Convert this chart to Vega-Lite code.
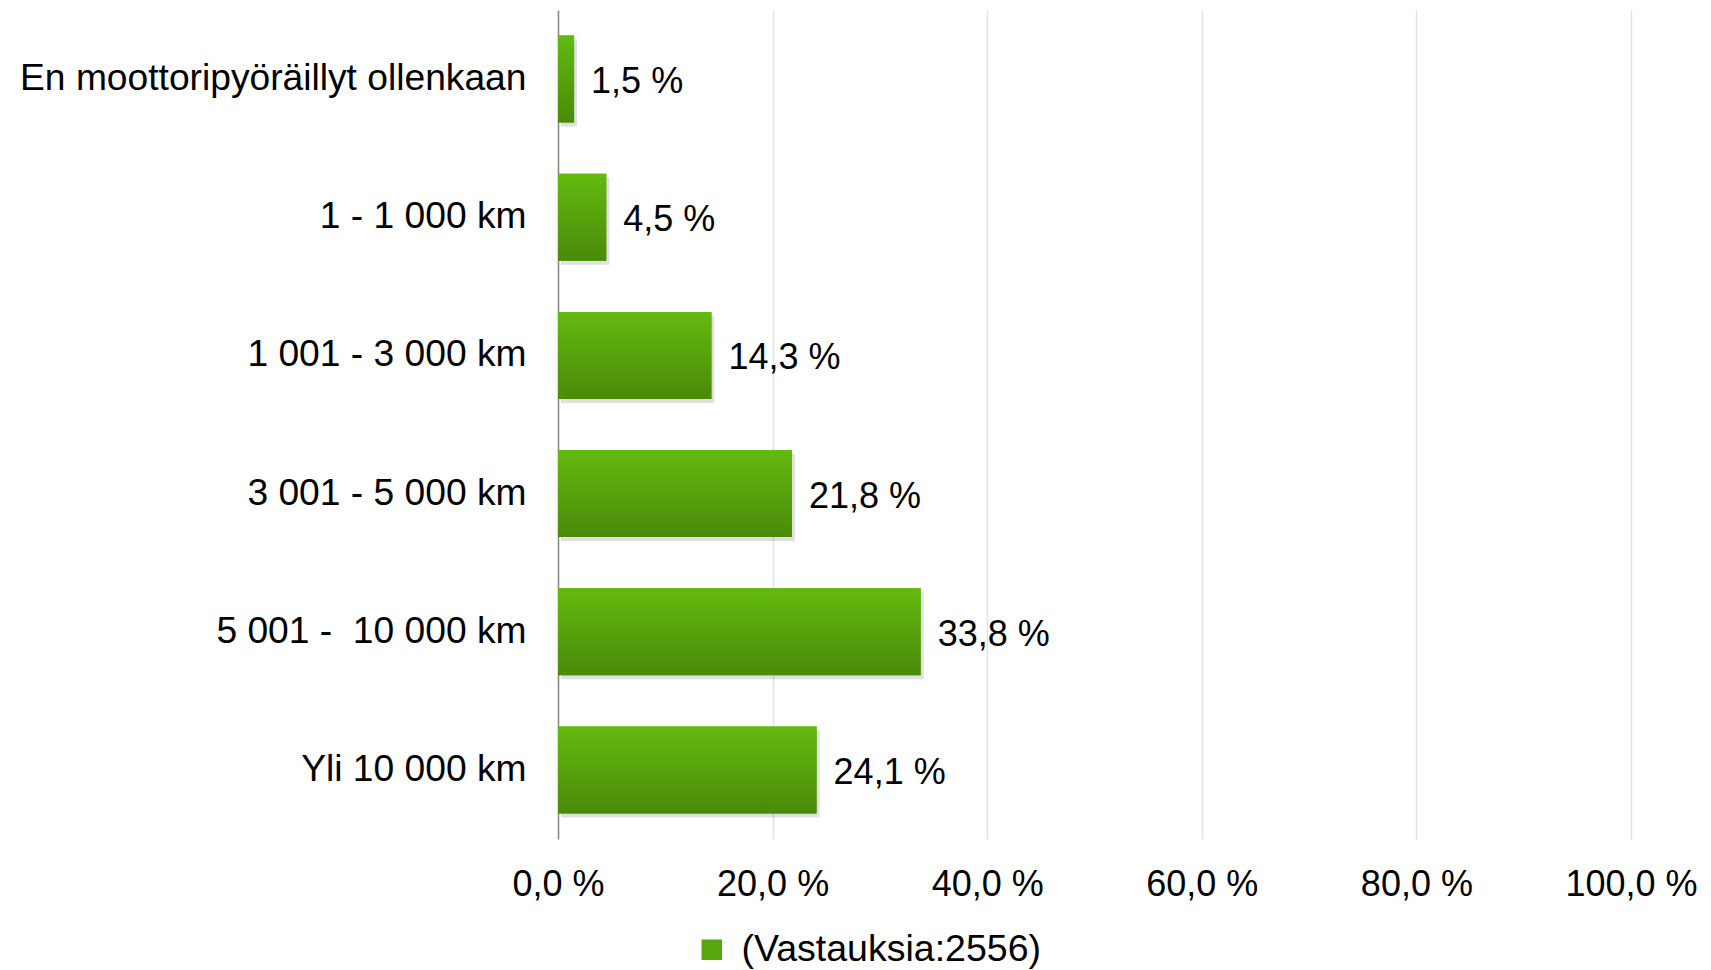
{
  "$schema": "https://vega.github.io/schema/vega-lite/v6.json",
  "width": 1073,
  "height": 829,
  "autosize": {"type": "none"},
  "padding": {"left": 558, "top": 10, "right": 80, "bottom": 131},
  "background": "white",
  "config": {
    "view": {"stroke": null},
    "font": "Liberation Sans"
  },
  "data": {
    "values": [
      {"category": "En moottoripyöräillyt ollenkaan", "value": 1.5, "series": "(Vastauksia:2556)"},
      {"category": "1 - 1 000 km", "value": 4.5, "series": "(Vastauksia:2556)"},
      {"category": "1 001 - 3 000 km", "value": 14.3, "series": "(Vastauksia:2556)"},
      {"category": "3 001 - 5 000 km", "value": 21.8, "series": "(Vastauksia:2556)"},
      {"category": "5 001 - \u00a010 000 km", "value": 33.8, "series": "(Vastauksia:2556)"},
      {"category": "Yli 10 000 km", "value": 24.1, "series": "(Vastauksia:2556)"}
    ]
  },
  "transform": [
    {"calculate": "replace(format(datum.value, '.1f'), '.', ',') + ' %'", "as": "label"}
  ],
  "encoding": {
    "y": {
      "field": "category",
      "type": "nominal",
      "sort": null,
      "scale": {"paddingInner": 0.37, "paddingOuter": 0.185},
      "axis": {
        "title": null,
        "ticks": false,
        "tickSize": 0,
        "labelPadding": 32,
        "labelFontSize": 37.2,
        "labelColor": "#000000",
        "labelLimit": 600,
        "domainColor": "#878787",
        "domainWidth": 1.5,
        "grid": false
      }
    },
    "x": {
      "field": "value",
      "type": "quantitative",
      "scale": {"domain": [0, 100], "nice": false},
      "axis": {
        "title": null,
        "values": [0, 20, 40, 60, 80, 100],
        "labelExpr": "replace(format(datum.value, '.1f'), '.', ',') + ' %'",
        "ticks": false,
        "tickSize": 0,
        "domain": false,
        "grid": true,
        "gridColor": "#d9e4ef",
        "gridWidth": 1.5,
        "labelPadding": 28,
        "labelFontSize": 36,
        "labelColor": "#000000",
        "labelFlush": false
      }
    }
  },
  "layer": [
    {
      "mark": {"type": "bar", "color": "#000000", "opacity": 0.12, "xOffset": 3, "yOffset": 4},
      "encoding": {}
    },
    {
      "mark": {"type": "bar"},
      "encoding": {
        "color": {
          "field": "series",
          "type": "nominal",
          "scale": {"range": ["#58a50d"]},
          "legend": {
            "title": null,
            "orient": "none",
            "legendX": 135,
            "legendY": 921,
            "symbolType": "square",
            "symbolSize": 420,
            "symbolStrokeWidth": 0,
            "labelFontSize": 37.5,
            "labelColor": "#000000",
            "labelOffset": 11,
            "labelLimit": 600
          }
        }
      }
    },
    {
      "mark": {
        "type": "bar",
        "color": {
          "gradient": "linear",
          "x1": 0, "y1": 0, "x2": 0, "y2": 1,
          "stops": [
            {"offset": 0, "color": "#64ba0f"},
            {"offset": 1, "color": "#4a8a09"}
          ]
        }
      },
      "encoding": {}
    },
    {
      "mark": {"type": "text", "align": "left", "baseline": "middle", "dx": 17, "dy": 3, "fontSize": 36, "color": "#000000"},
      "encoding": {"text": {"field": "label"}}
    }
  ]
}
